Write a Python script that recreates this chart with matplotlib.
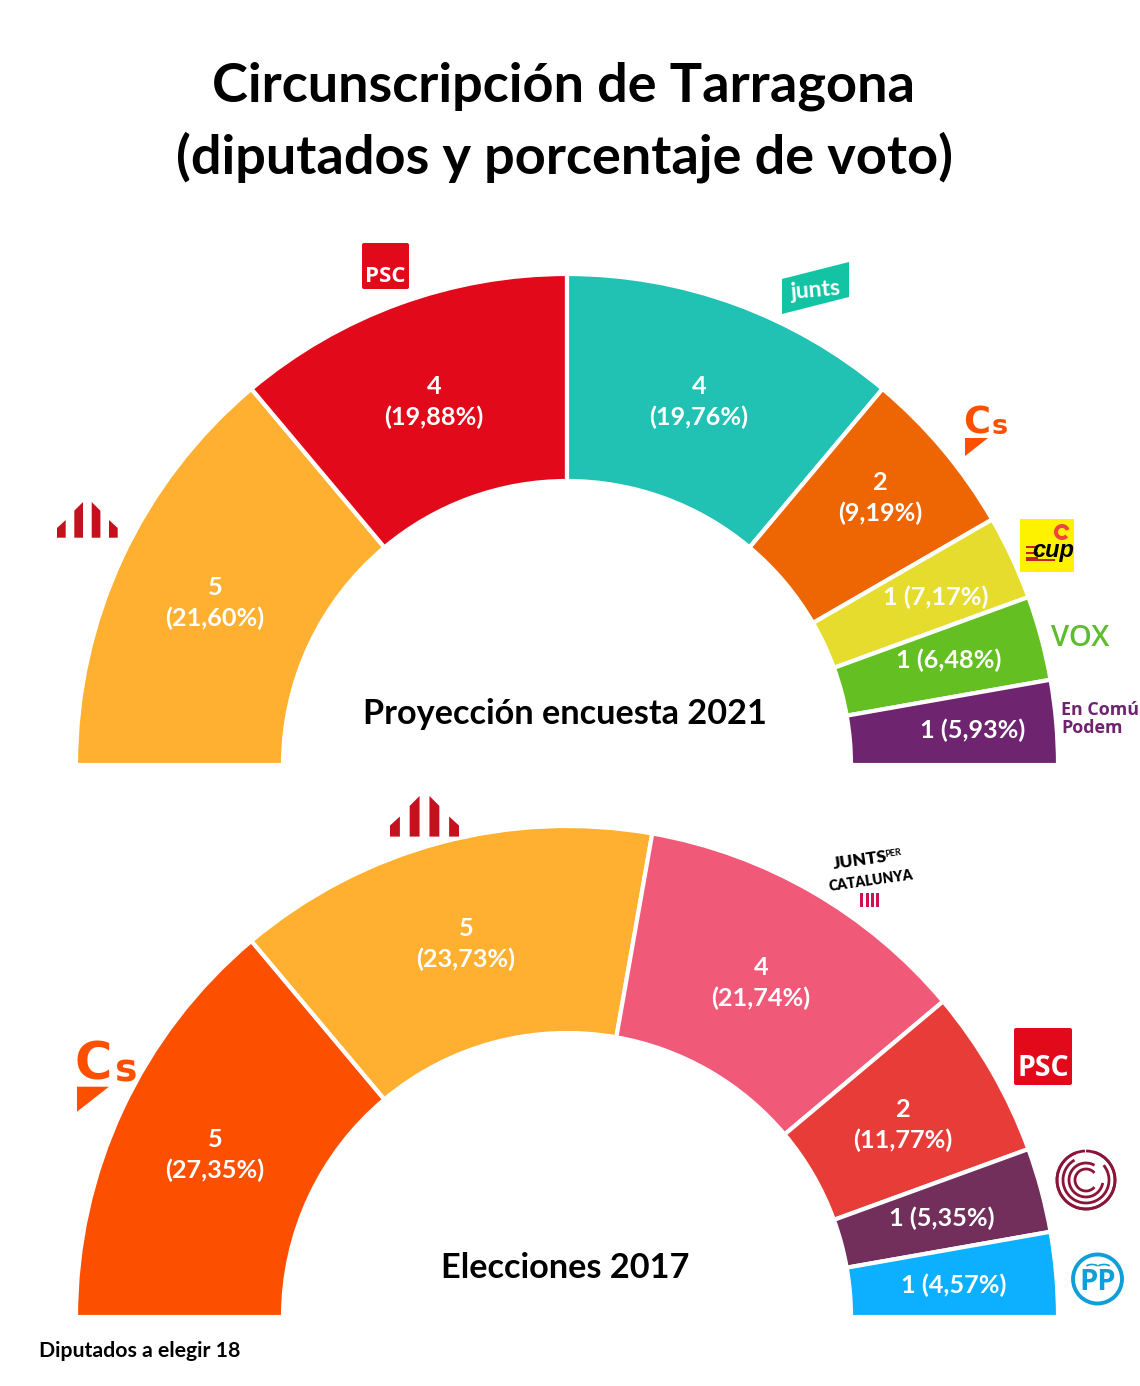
import matplotlib
matplotlib.use("Agg")
import matplotlib.pyplot as plt
from matplotlib.patches import Arc, Circle, FancyBboxPatch, Polygon, Rectangle, Wedge

W, H = 1140, 1386
FONT = "Lato"

# --- data ----------------------------------------------------------------------------------
parties_2021 = ["ERC", "PSC", "Junts", "Cs", "CUP", "Vox", "ECP"]
seats_2021 = [5, 4, 4, 2, 1, 1, 1]
pct_2021 = [21.60, 19.88, 19.76, 9.19, 7.17, 6.48, 5.93]
colors_2021 = ["#FFB030", "#E20A1A", "#21C2B3", "#EE6503", "#E6DC2E", "#63BF22", "#6E246E"]

parties_2017 = ["Cs", "ERC", "JxCat", "PSC", "CeC", "PP"]
seats_2017 = [5, 5, 4, 2, 1, 1]
pct_2017 = [27.35, 23.73, 21.74, 11.77, 5.35, 4.57]
colors_2017 = ["#FC5000", "#FFB030", "#F05A78", "#E83C38", "#722F5B", "#0DB0FF"]

# label anchors in picture pixels (the slices themselves come from pie)
label_xy_2021 = [(215, 603), (434, 402), (699, 402), (880, 498), (936, 597), (949, 660), (973, 730)]
label_xy_2017 = [(215, 1155), (466, 944), (761, 983), (903, 1125), (942, 1218), (954, 1285)]

fig = plt.figure(figsize=(W / 100, H / 100), dpi=100, facecolor="white")


def hemicycle(seats, colors, cy):
    """half donut: the other half of the pie is a hidden slice of the same total"""
    R, r, cx = 491, 284, 567
    ax = fig.add_axes([(cx - R) / W, 1 - (cy + R) / H, 2 * R / W, 2 * R / H])
    wedges, _ = ax.pie(seats + [sum(seats)], colors=colors + ["white"], startangle=180,
                       counterclock=False, radius=1,
                       wedgeprops=dict(width=1 - r / R, edgecolor="white", linewidth=3))
    wedges[-1].set_visible(False)
    ax.set_xlim(-1, 1)
    ax.set_ylim(-1, 1)
    return ax


hemicycle(seats_2021, colors_2021, 765)
hemicycle(seats_2017, colors_2017, 1317)

# overlay in pixel coords for all the text and logos
ov = fig.add_axes([0, 0, 1, 1], zorder=5)
ov.set_xlim(0, W)
ov.set_ylim(H, 0)
ov.axis("off")
ov.patch.set_alpha(0)


def txt(x, y, s, size, color="black", weight="bold", family=FONT, **kw):
    kw.setdefault("ha", "center")
    kw.setdefault("va", "center")
    return ov.text(x, y, s, fontsize=size, color=color, fontweight=weight, family=family, **kw)


def seat_labels(seats, pct, positions):
    for n, p, (x, y) in zip(seats, pct, positions):
        share = f"({p:.2f}%)".replace(".", ",")
        s = f"{n}\n{share}" if n > 1 else f"{n} {share}"
        txt(x, y, s, 18.2, color="white", linespacing=1.42, ha="center")


seat_labels(seats_2021, pct_2021, label_xy_2021)
seat_labels(seats_2017, pct_2017, label_xy_2017)

txt(564, 86, "Circunscripción de Tarragona", 39)
txt(564, 157, "(diputados y porcentaje de voto)", 39)
txt(565, 714, "Proyección encuesta 2021", 24.7)
txt(565, 1268, "Elecciones 2017", 24.7)
txt(39, 1351, "Diputados a elegir 18", 15.3, ha="left")


# --- logos ---------------------------------------------------------------------------------
def erc_logo(x0, y0, k):
    lefts = [0, 17.3, 34.7, 52]
    tops = [(26, 18), (8.7, 0), (0, 8.7), (18, 26)]
    for left, (a, b) in zip(lefts, tops):
        pts = [(left, 35.7), (left, a), (left + 8.7, b), (left + 8.7, 35.7)]
        ov.add_patch(Polygon([(x0 + k * px, y0 + k * py) for px, py in pts], color="#C5111D", lw=0))


def psc_logo(x0, y0, w, h, size, text_y):
    ov.add_patch(FancyBboxPatch((x0 + 2, y0 + 2), w - 4, h - 4, boxstyle="round,pad=2,rounding_size=2",
                                fc="#E20A1A", ec="none"))
    txt(x0 + w / 2, text_y, "PSC", size, color="white", family="Open Sans")


def cs_logo(x0, y0, k):
    orange = "#FC5000"
    txt(x0 - 2 * k, y0 + 15 * k, "C", 26.5 * k, color=orange, family="DejaVu Sans", ha="left")
    txt(x0 + 27 * k, y0 + 19 * k, "s", 19.5 * k, color=orange, family="DejaVu Sans", ha="left")
    ov.add_patch(Polygon([(x0, y0 + 30 * k), (x0 + 23 * k, y0 + 30 * k), (x0, y0 + 48 * k)], color=orange, lw=0))


psc_logo(362, 243, 47, 46, 16, 276)
psc_logo(1014, 1028, 58, 57, 20.5, 1068)
erc_logo(57, 502, 1.0)
erc_logo(390, 796, 1.137)
cs_logo(965, 408, 1.0)
cs_logo(77, 1045, 1.39)

# junts
ov.add_patch(Polygon([(782, 279), (849, 262), (849, 297), (782, 314)], color="#12C4A3", lw=0))
txt(816, 290, "junts", 16.5, color="white", rotation=5)

# cup
ov.add_patch(Rectangle((1020, 519), 54, 53, color="#FFF200", lw=0))
ov.add_patch(Wedge((1062, 532), 8, 40, 340, width=4, color="#F0443E", lw=0))
for yy in (546, 551.5, 557):
    ov.add_patch(Rectangle((1026, yy), 12, 2.4, color="#C8202A", lw=0))
ov.add_patch(Rectangle((1026, 558.5), 29, 2.4, color="#C8202A", lw=0))
txt(1053, 551, "cup", 17, style="italic", family="Liberation Sans")

# vox
txt(1080, 638, "VOX", 21, color="#5EBC2E", weight="semibold", family="Open Sans")

# en comu podem, kept just inside the right edge
txt(1061, 710, "En Comú", 12.9, color="#6E246E", ha="left", family="Open Sans")
txt(1061, 728, "Podem", 12.9, color="#6E246E", ha="left", family="Open Sans")

# junts per catalunya, no condensed face here so a smaller heavy one
txt(860, 860, "JUNTS", 12.5, rotation=8, weight="heavy")
txt(893, 853, "PER", 6.5, rotation=8)
txt(871, 881, "CATALUNYA", 10, rotation=8, weight="heavy")
for xx in (860, 865.5, 871, 876):
    ov.add_patch(Rectangle((xx, 893), 3, 14, color="#D01050", lw=0))

# comu podem 2017, concentric broken arcs
for rad, t1, t2 in [(29, 285, 250), (29, 270, 268), (23, 320, 240), (17, 10, 300), (11, 40, 320)]:
    ov.add_patch(Arc((1086, 1180), 2 * rad, 2 * rad, theta1=t1, theta2=t2, color="#8A1538", lw=2))

# pp
ov.add_patch(Circle((1097.5, 1279), 24.5, fc="white", ec="#0E9FD8", lw=2.8))
ov.add_patch(Arc((1092, 1268), 14, 7, theta1=200, theta2=340, color="#0E9FD8", lw=1.2))
ov.add_patch(Arc((1104, 1268), 14, 7, theta1=200, theta2=340, color="#0E9FD8", lw=1.2))
txt(1097.5, 1282, "PP", 21, color="#0E9FD8", family="Open Sans")

fig.savefig("out.png", dpi=100)
